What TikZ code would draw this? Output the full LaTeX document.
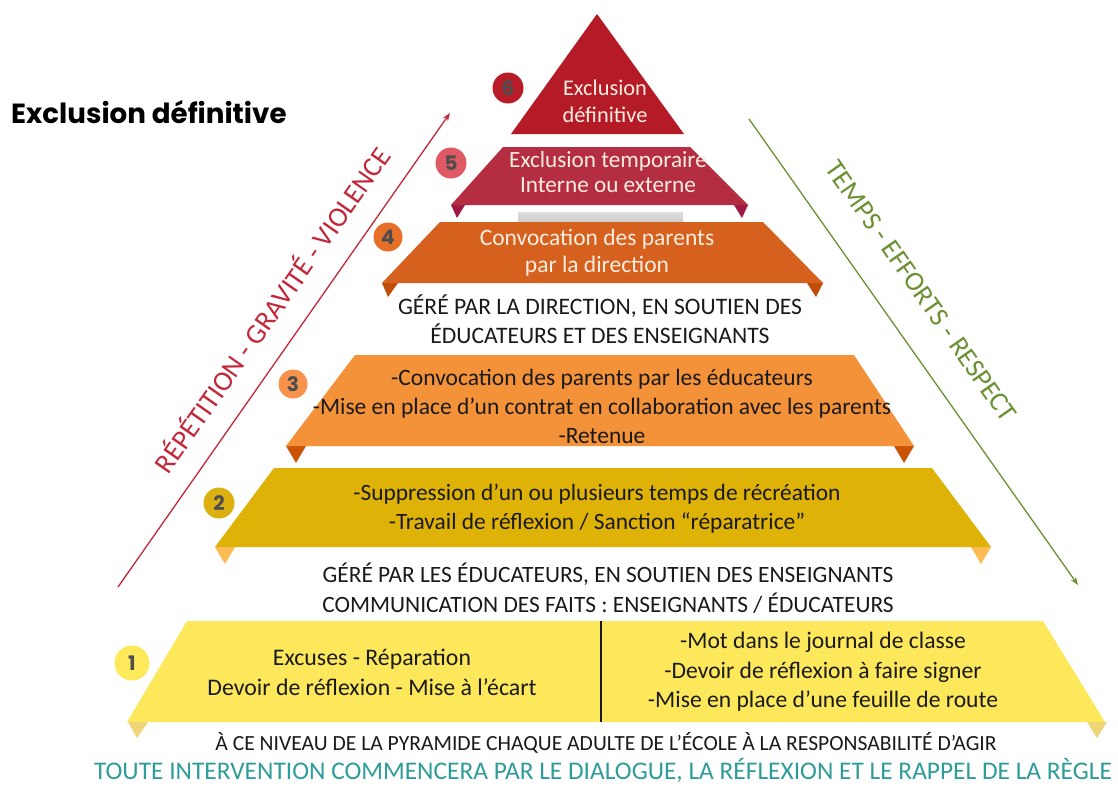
\documentclass[tikz,border=0pt]{standalone}
\usepackage{fontspec}
\setmainfont{Carlito}
\newfontfamily\titlefont{Poppins}
\usetikzlibrary{arrows.meta}

\definecolor{lvlsix}{HTML}{B51A27}
\definecolor{lvlfive}{HTML}{B52D41}
\definecolor{tabfive}{HTML}{9E1A45}
\definecolor{lvlfour}{HTML}{D6611F}
\definecolor{tabfour}{HTML}{C04E0A}
\definecolor{lvlthree}{HTML}{F4923A}
\definecolor{tabthree}{HTML}{C85208}
\definecolor{lvltwo}{HTML}{DEB207}
\definecolor{tabtwo}{HTML}{FDBB55}
\definecolor{lvlone}{HTML}{FDE85C}
\definecolor{tabone}{HTML}{EFD478}
\definecolor{dotsix}{HTML}{B81C28}
\definecolor{dotfive}{HTML}{E05A65}
\definecolor{dotfour}{HTML}{E67028}
\definecolor{dotthree}{HTML}{F7934C}
\definecolor{dottwo}{HTML}{DDB012}
\definecolor{dotone}{HTML}{FDE95A}
\definecolor{numgray}{HTML}{4D4D4D}
\definecolor{cream}{HTML}{FBEEE0}
\definecolor{inkblack}{HTML}{1A1A1A}
\definecolor{teal}{HTML}{2E9D9A}
\definecolor{redline}{HTML}{C2283A}
\definecolor{greenline}{HTML}{6B9132}

\begin{document}
\begin{tikzpicture}[x=1pt, y=-1pt,
                    lvltext/.style={align=center, inner sep=0pt},
                    numdot/.style={circle, inner sep=0pt, text=numgray,
                      font=\titlefont\bfseries\fontsize{20}{20}\selectfont},
                    slopetext/.style={inner sep=0pt}]
\fill[white] (0,0) rectangle (1118,785);
\useasboundingbox (0,0) rectangle (1118,785);

% level 6
\fill[lvlsix] (597,14) -- (684,134) -- (511,134) -- cycle;

% level 5
\fill[tabfive] (451,205) -- (465,205) -- (457,218) -- cycle;
\fill[tabfive] (734,205) -- (748,205) -- (742,218) -- cycle;
\fill[lvlfive] (503,147) -- (690,147) -- (748,205) -- (451,205) -- cycle;
\shade[top color=gray!25, bottom color=gray!40] (518,212) rectangle (683,222);

% level 4
\fill[tabfour] (382,283) -- (398,283) -- (388,297) -- cycle;
\fill[tabfour] (807,283) -- (823,283) -- (816,297) -- cycle;
\fill[lvlfour] (440,222) -- (763,222) -- (823,283) -- (382,283) -- cycle;

% level 3
\fill[tabthree] (286,446) -- (306,446) -- (296,463) -- cycle;
\fill[tabthree] (894,446) -- (914,446) -- (904,463) -- cycle;
\fill[lvlthree] (355,355) -- (854,355) -- (914,446) -- (286,446) -- cycle;

% level 2
\fill[tabtwo] (215,547) -- (235,547) -- (225,564) -- cycle;
\fill[tabtwo] (971,547) -- (991,547) -- (981,564) -- cycle;
\fill[lvltwo] (274,468) -- (932,468) -- (991,547) -- (215,547) -- cycle;

% level 1
\fill[tabone] (128,722) -- (148,722) -- (137,738) -- cycle;
\fill[tabone] (1087,722) -- (1107,722) -- (1097,738) -- cycle;
\fill[lvlone] (187,621) -- (1043,621) -- (1105,722) -- (127,722) -- cycle;
\draw[inkblack, line width=1.6pt] (601,621) -- (601,722);

% numbers
\node[numdot, fill=dotsix, minimum size=31pt] (n6) at (508,88) {6};
\node[numdot, fill=dotfive, minimum size=31pt] (n5) at (451,163) {5};
\node[numdot, fill=dotfour, minimum size=29pt] (n4) at (388,237) {4};
\node[numdot, fill=dotthree, minimum size=29pt] (n3) at (293,384) {3};
\node[numdot, fill=dottwo, minimum size=31pt] (n2) at (219,503) {2};
\node[numdot, fill=dotone, minimum size=35pt] (n1) at (132,663) {1};

% texts
\node[anchor=base west, inner sep=0pt,
      font=\titlefont\bfseries\fontsize{27.7}{28}\selectfont] (title) at (11,123) {Exclusion définitive};

\node[lvltext, text=cream, font=\fontsize{22.4}{27}\selectfont] (t6) at (605,101) {Exclusion\\définitive};
\node[lvltext, text=cream, font=\fontsize{23.2}{25}\selectfont] (t5) at (608,172) {Exclusion temporaire\\Interne ou externe};
\node[lvltext, text=cream, font=\fontsize{23.5}{27}\selectfont] (t4) at (597,253) {Convocation des parents\\par la direction};
\node[lvltext, text=inkblack, font=\fontsize{23.6}{29}\selectfont] (g4) at (600,319) {GÉRÉ PAR LA DIRECTION, EN SOUTIEN DES\\ÉDUCATEURS ET DES ENSEIGNANTS};
\node[lvltext, text=inkblack, font=\fontsize{23.5}{29}\selectfont] (t3) at (602,406)
  {-Convocation des parents par les éducateurs\\-Mise en place d’un contrat en collaboration avec les parents\\-Retenue};
\node[lvltext, text=inkblack, font=\fontsize{23.4}{29}\selectfont] (t2) at (597,509)
  {-Suppression d’un ou plusieurs temps de récréation\\-Travail de réflexion / Sanction “réparatrice”};
\node[lvltext, text=inkblack, font=\fontsize{23.4}{30}\selectfont] (g2) at (608,588)
  {GÉRÉ PAR LES ÉDUCATEURS, EN SOUTIEN DES ENSEIGNANTS\\COMMUNICATION DES FAITS : ENSEIGNANTS / ÉDUCATEURS};
\node[lvltext, text=inkblack, font=\fontsize{23.8}{30}\selectfont] (t1a) at (372,672)
  {Excuses - Réparation\\Devoir de réflexion - Mise à l’écart};
\node[lvltext, text=inkblack, font=\fontsize{23.6}{29.5}\selectfont] (t1b) at (823,672)
  {-Mot dans le journal de classe\\-Devoir de réflexion à faire signer\\-Mise en place d’une feuille de route};
\node[lvltext, text=inkblack, font=\fontsize{21.6}{22}\selectfont] (base) at (606,743)
  {À CE NIVEAU DE LA PYRAMIDE CHAQUE ADULTE DE L’ÉCOLE À LA RESPONSABILITÉ D’AGIR};
\node[lvltext, text=teal, text depth=0pt, anchor=base, font=\fontsize{25.4}{26}\selectfont] (dialogue) at (603,779)
  {TOUTE INTERVENTION COMMENCERA PAR LE DIALOGUE, LA RÉFLEXION ET LE RAPPEL DE LA RÈGLE};

% side arrows
\coordinate (redtail) at (118,587);
\coordinate (redtip) at (450,113);
\draw[redline, line width=1.3pt, -{Stealth[length=8pt, width=6pt]}] (redtail) -- (redtip);
\node[slopetext, text=redline, rotate=55, font=\fontsize{28}{28}\selectfont] (gravity) at (271,309) {RÉPÉTITION - GRAVITÉ - VIOLENCE};

\coordinate (greentail) at (749,119);
\coordinate (greentip) at (1078,585);
\draw[greenline, line width=1.3pt, -{Stealth[length=8pt, width=6pt]}] (greentail) -- (greentip);
\node[slopetext, text=greenline, rotate=-55, font=\fontsize{27.5}{28}\selectfont] (effort) at (921,291) {TEMPS - EFFORTS - RESPECT};

\end{tikzpicture}
\end{document}
